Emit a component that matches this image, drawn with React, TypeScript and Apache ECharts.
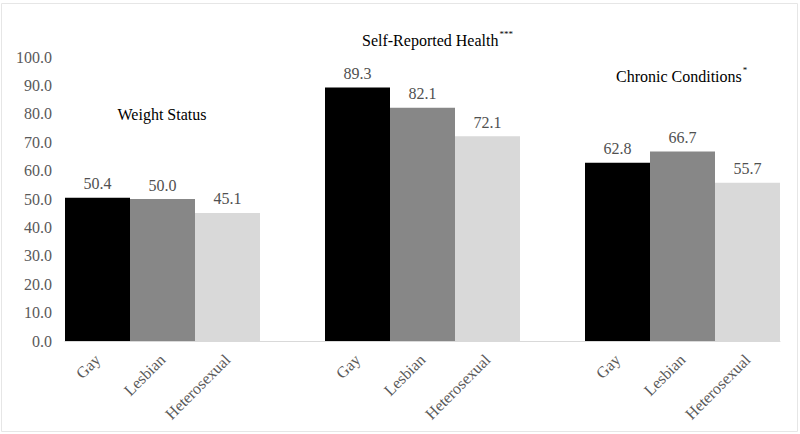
import React, { useEffect, useRef } from "react";
import * as echarts from "echarts";

const categories = ["Gay", "Lesbian", "Heterosexual", "", "Gay", "Lesbian", "Heterosexual", "", "Gay", "Lesbian", "Heterosexual"];
const values: (number | null)[] = [50.4, 50.0, 45.1, null, 89.3, 82.1, 72.1, null, 62.8, 66.7, 55.7];
const groupColors = ["#000000", "#878787", "#d9d9d9"];
const yTicks = { min: 0, max: 100, interval: 10 };

const FONT = "'Liberation Serif', 'Times New Roman', serif";

export default function App() {
  const ref = useRef<HTMLDivElement>(null);
  useEffect(() => {
    if (!ref.current) return;
    const chart = echarts.init(ref.current, undefined, { renderer: "svg" });
    const data = values.map((v, i) =>
      v === null
        ? { value: null }
        : { value: v, itemStyle: { color: groupColors[i % 4] } }
    );
    chart.setOption({
      animation: false,
      backgroundColor: "#ffffff",
      grid: { left: 65, right: 20, top: 57, bottom: 93 },
      xAxis: {
        type: "category",
        data: categories,
        axisLine: { lineStyle: { color: "#d9d9d9", width: 1 } },
        axisTick: { show: false },
        axisLabel: {
          interval: 0,
          rotate: 45,
          margin: 16,
          color: "#595959",
          fontFamily: FONT,
          fontSize: 16,
        },
      },
      yAxis: {
        type: "value",
        min: yTicks.min,
        max: yTicks.max,
        interval: yTicks.interval,
        splitLine: { show: false },
        axisLine: { show: false },
        axisTick: { show: false },
        axisLabel: {
          margin: 13,
          color: "#595959",
          fontFamily: FONT,
          fontSize: 16,
          formatter: (v: number) => v.toFixed(1),
        },
      },
      series: [
        {
          type: "bar",
          data,
          barWidth: "100%",
          barCategoryGap: "0%",
          label: {
            show: true,
            position: "top",
            distance: 6,
            color: "#505050",
            fontFamily: FONT,
            fontSize: 16,
            formatter: (p: any) => (p.value == null ? "" : Number(p.value).toFixed(1)),
          },
        },
      ],
      graphic: [
        {
          type: "rect",
          shape: { x: 1.5, y: 3.5, width: 796, height: 428 },
          style: { fill: "none", stroke: "#e6e6e6", lineWidth: 1 },
          silent: true,
        },
        {
          type: "text",
          x: 162,
          y: 114,
          style: {
            text: "Weight Status",
            font: `16px ${FONT}`,
            fill: "#000000",
            align: "center",
            verticalAlign: "middle",
          },
        },
        {
          type: "text",
          x: 362,
          y: 40,
          style: {
            text: "{t|Self-Reported Health}{s|***}",
            rich: {
              t: { fontFamily: FONT, fontSize: 16, color: "#000000" },
              s: { fontFamily: FONT, fontSize: 9, color: "#000000", verticalAlign: "top", padding: [0, 0, 12, 1] },
            },
            align: "left",
            verticalAlign: "middle",
          },
        },
        {
          type: "text",
          x: 616,
          y: 76,
          style: {
            text: "{t|Chronic Conditions}{s|*}",
            rich: {
              t: { fontFamily: FONT, fontSize: 16, color: "#000000" },
              s: { fontFamily: FONT, fontSize: 9, color: "#000000", verticalAlign: "top", padding: [0, 0, 12, 1] },
            },
            align: "left",
            verticalAlign: "middle",
          },
        },
      ],
    });
    return () => chart.dispose();
  }, []);
  return (
    <div
      ref={ref}
      style={{ position: "absolute", left: 0, top: 0, width: 800, height: 434 }}
    />
  );
}
